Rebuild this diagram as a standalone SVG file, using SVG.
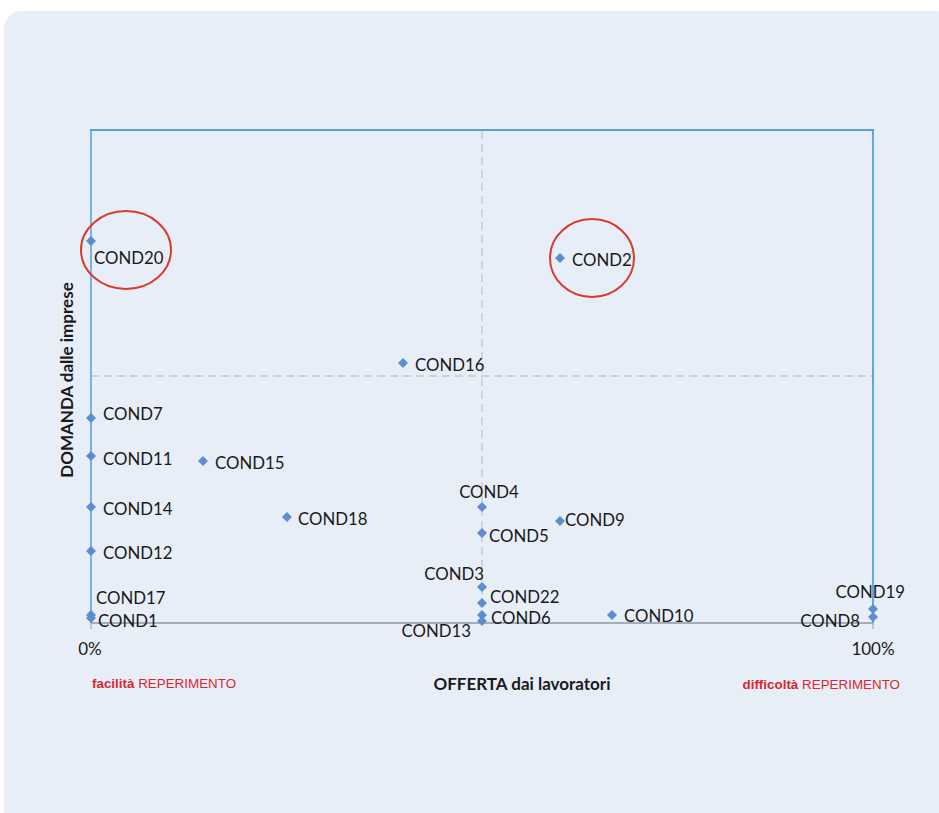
<svg xmlns="http://www.w3.org/2000/svg" width="939" height="813" viewBox="0 0 939 813">
<style>
.lbl{font-family:Lato,"Liberation Sans",sans-serif;font-size:16.8px;fill:#1a1a1a}
.ax{font-family:Lato,"Liberation Sans",sans-serif;font-size:17px;fill:#1a1a1a}
.ttl{font-family:Lato,"Liberation Sans",sans-serif;font-size:17px;font-weight:bold;fill:#1a1a1a}
.red{font-family:"Liberation Sans",Arial,sans-serif;font-size:13.4px;fill:#d8282e}
.pt{fill:#5b8ecf}
.dash{stroke:#c2c6ce;stroke-width:1.3;stroke-dasharray:8 5;fill:none}
.ring{fill:none;stroke:#d93a2b;stroke-width:2}
</style>
<defs>
<path id="d" d="M0,-5 L5,0 L0,5 L-5,0 Z"/>
</defs>
<rect x="4" y="11" width="950" height="820" rx="18" fill="#e8eef8"/>
<g id="axes">
<line class="dash" x1="482" y1="131" x2="482" y2="623"/>
<line class="dash" x1="91" y1="376" x2="873" y2="376"/>
<line x1="91" y1="623" x2="873" y2="623" stroke="#8b98a6" stroke-width="1.3"/>
<line x1="91" y1="623" x2="91" y2="629" stroke="#a8b0ba" stroke-width="1.3"/>
<line x1="873" y1="623" x2="873" y2="629" stroke="#a8b0ba" stroke-width="1.3"/>
<line x1="90" y1="130" x2="874" y2="130" stroke="#2a86d2" stroke-width="1.6"/>
<line x1="91" y1="130" x2="91" y2="623" stroke="#5aa5e0" stroke-width="1.6"/>
<line x1="873" y1="130" x2="873" y2="623" stroke="#3e97dc" stroke-width="1.6"/>
<text class="ax" x="90" y="655" text-anchor="middle">0%</text>
<text class="ax" x="873" y="655" text-anchor="middle">100%</text>
<text class="ttl" x="522" y="690" text-anchor="middle">OFFERTA dai lavoratori</text>
<text class="ttl" transform="translate(73,380) rotate(-90)" text-anchor="middle" font-size="18">DOMANDA dalle imprese</text>
<text class="red" x="92" y="688"><tspan font-weight="bold">facilità</tspan> REPERIMENTO</text>
<text class="red" x="900" y="689" text-anchor="end"><tspan font-weight="bold">difficoltà</tspan> REPERIMENTO</text>
</g>
<g id="connectors"></g>
<g id="highlights">
<ellipse class="ring" cx="126" cy="250" rx="45" ry="39"/>
<ellipse class="ring" cx="592" cy="258" rx="42" ry="39"/>
</g>
<g id="COND20"><use href="#d" class="pt" x="91" y="241"/><text class="lbl" x="94" y="264">COND20</text></g>
<g id="COND2"><use href="#d" class="pt" x="560" y="258"/><text class="lbl" x="572" y="266">COND2</text></g>
<g id="COND16"><use href="#d" class="pt" x="403" y="363"/><text class="lbl" x="415" y="371">COND16</text></g>
<g id="COND7"><use href="#d" class="pt" x="91" y="418"/><text class="lbl" x="103" y="420">COND7</text></g>
<g id="COND11"><use href="#d" class="pt" x="91" y="456"/><text class="lbl" x="103" y="465">COND11</text></g>
<g id="COND15"><use href="#d" class="pt" x="203" y="461"/><text class="lbl" x="215" y="469">COND15</text></g>
<g id="COND14"><use href="#d" class="pt" x="91" y="507"/><text class="lbl" x="103" y="515">COND14</text></g>
<g id="COND18"><use href="#d" class="pt" x="287" y="517"/><text class="lbl" x="298" y="525">COND18</text></g>
<g id="COND12"><use href="#d" class="pt" x="91" y="551"/><text class="lbl" x="103" y="559">COND12</text></g>
<g id="COND4"><use href="#d" class="pt" x="482" y="507"/><text class="lbl" x="489" y="498" text-anchor="middle">COND4</text></g>
<g id="COND5"><use href="#d" class="pt" x="482" y="533"/><text class="lbl" x="489" y="542">COND5</text></g>
<g id="COND9"><use href="#d" class="pt" x="560" y="521"/><text class="lbl" x="565" y="526">COND9</text></g>
<g id="COND3"><use href="#d" class="pt" x="482" y="587"/><text class="lbl" x="484" y="580" text-anchor="end">COND3</text></g>
<g id="COND22"><use href="#d" class="pt" x="482" y="603"/><text class="lbl" x="490" y="603">COND22</text></g>
<g id="COND6"><use href="#d" class="pt" x="482" y="615"/><text class="lbl" x="491" y="624">COND6</text></g>
<g id="COND13"><use href="#d" class="pt" x="482" y="621"/><text class="lbl" x="471" y="637" text-anchor="end">COND13</text></g>
<g id="COND10"><use href="#d" class="pt" x="612" y="615"/><text class="lbl" x="624" y="622">COND10</text></g>
<g id="COND17"><use href="#d" class="pt" x="91" y="615"/><text class="lbl" x="96" y="604">COND17</text></g>
<g id="COND1"><use href="#d" class="pt" x="91" y="618"/><text class="lbl" x="98" y="627">COND1</text></g>
<g id="COND19"><use href="#d" class="pt" x="873" y="609"/><text class="lbl" x="905" y="598" text-anchor="end">COND19</text></g>
<g id="COND8"><use href="#d" class="pt" x="873" y="617"/><text class="lbl" x="860" y="627" text-anchor="end">COND8</text></g>
</svg>
